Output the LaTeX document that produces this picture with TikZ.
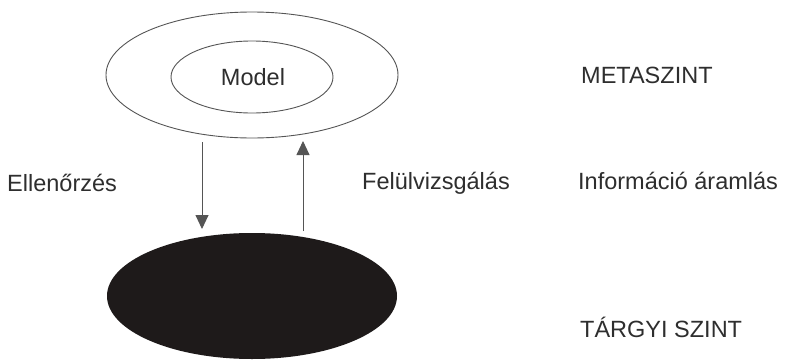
\documentclass[tikz,border=0pt]{standalone}
\usepackage{fontspec}
\setmainfont{Liberation Sans}
\usetikzlibrary{arrows.meta}
\definecolor{ink}{HTML}{2E2E2E}
\definecolor{linegray}{HTML}{555555}
\definecolor{blob}{HTML}{1E1A1A}
\begin{document}
\begin{tikzpicture}[x=1pt,y=-1pt,
  lbl/.style={font=\fontsize{23.5}{26}\selectfont, text=ink, anchor=west, inner sep=0pt},
  ring/.style={draw=linegray, line width=0.9pt},
  flow/.style={draw=linegray, line width=0.9pt, -{Triangle[width=13pt,length=14pt]}}]
\useasboundingbox (0,0) rectangle (788,362);
\fill[white] (0,0) rectangle (788,362);
% ellipses
\draw[ring] (252,75) ellipse [x radius=146, y radius=63];
\draw[ring] (252,77) ellipse [x radius=81, y radius=36];
\fill[blob] (252,296) ellipse [x radius=145, y radius=63];
\node[lbl, anchor=center] (model) at (253,77) {Model};
% arrow anchors
\coordinate (dtop) at (202,142);
\coordinate (dbot) at (202,229);
\coordinate (ubot) at (303,231);
\coordinate (utop) at (303,141);
\draw[flow] (dtop) -- (dbot);
\draw[flow] (ubot) -- (utop);
% labels
\node[lbl] (ell) at (7,183) {Ellenőrzés};
\node[lbl] (fel) at (362,183) {Felülvizsgálás};
\node[lbl] (meta) at (581,75) {METASZINT};
\node[lbl] (info) at (578,181) {Információ áramlás};
\node[lbl] (targy) at (580,327) {TÁRGYI SZINT};
\end{tikzpicture}
\end{document}
